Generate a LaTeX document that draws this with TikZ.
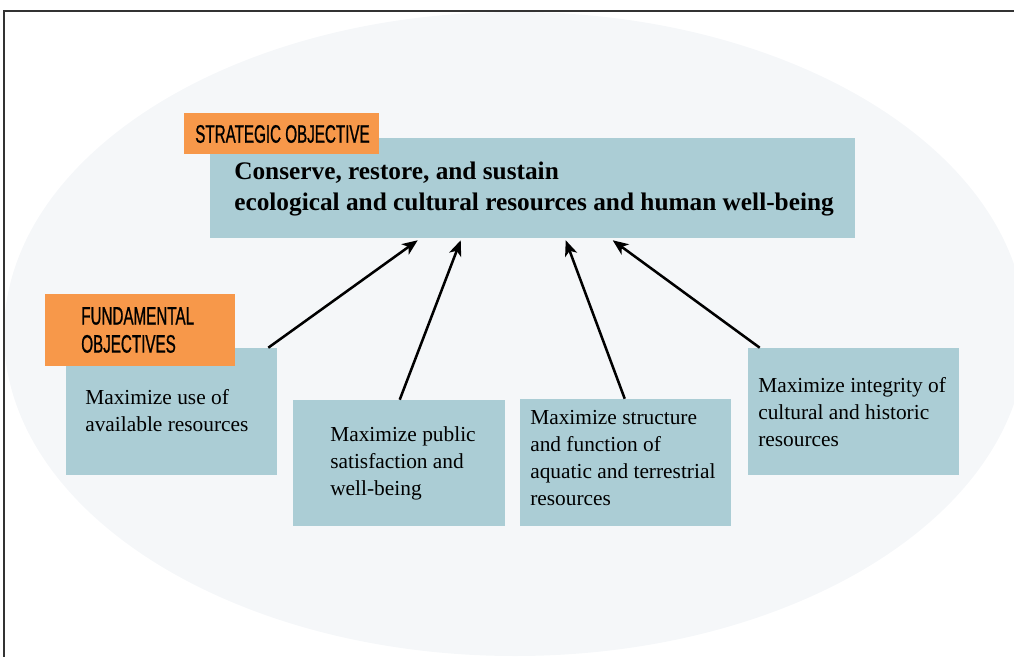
\documentclass[tikz,border=0pt]{standalone}
\usepackage{fontspec}
\setmainfont{Liberation Serif}
\newfontfamily\condfont[FakeStretch=0.6,FakeBold=0.8]{Liberation Sans}
\usetikzlibrary{fit,calc,arrows.meta}
\definecolor{boxblue}{HTML}{ABCDD5}
\definecolor{labelorange}{HTML}{F7984A}
\definecolor{ellfill}{HTML}{F5F7F9}
\definecolor{framegray}{HTML}{333333}
\tikzset{
  objbox/.style={fill=boxblue, draw=none, inner sep=0pt},
  lblbox/.style={fill=labelorange, draw=none, inner sep=0pt},
  objtext/.style={anchor=west, inner sep=0pt, align=left, font=\fontsize{15.2}{19.2}\selectfont},
  lbltext/.style={anchor=west, inner sep=0pt, align=left, font=\condfont\fontsize{18}{20}\selectfont},
  conn/.style={line width=1.8pt, -{Stealth[length=11pt,width=9pt,inset=3pt]}}
}
\begin{document}
\begin{tikzpicture}[x=0.025cm,y=-0.025cm]
\useasboundingbox (0,0) rectangle (1014,657);
% background ellipse
\fill[ellfill] (515,334) ellipse [x radius=511, y radius=322];
% frame
\draw[framegray, line width=1pt] (4,657) -- (4,11) -- (1014,11);
% main strategic box
\node[objbox, fit={(210,138)(855,238)}] (main) {};
\node[anchor=west, inner sep=0pt, align=left, font=\bfseries\fontsize{18}{22.7}\selectfont] (maintxt) at (234,189)
  {Conserve, restore, and sustain\\ecological and cultural resources and human well-being};
% strategic label
\node[lblbox, fit={(184,113)(379,154)}] (slbl) {};
\node[lbltext] (slbltxt) at (195,134) {STRATEGIC OBJECTIVE};
% fundamental boxes
\node[objbox, fit={(66,348)(277,475)}] (b1) {};
\node[objbox, fit={(293,400)(505,526)}] (b2) {};
\node[objbox, fit={(520,399)(731,526)}] (b3) {};
\node[objbox, fit={(748,348)(959,475)}] (b4) {};
% fundamental label
\node[lblbox, fit={(45,294)(235,366)}] (flbl) {};
\node[lbltext] (flbltxt) at (81,330) {FUNDAMENTAL\\OBJECTIVES};
% box texts
\node[objtext] (t1) at (85,411) {Maximize use of\\available resources};
\node[objtext] (t2) at (330,463) {Maximize public\\satisfaction and\\well-being};
\node[objtext] (t3) at (530,458) {Maximize structure\\and function of\\aquatic and terrestrial\\resources};
\node[objtext] (t4) at (758,412) {Maximize integrity of\\cultural and historic\\resources};
% connectors
\draw[conn] ($(b1.north east)+(-9,0)$) -- ($(main.south west)+(208,2)$);
\draw[conn] ($(b2.north west)+(107,0)$) -- ($(main.south west)+(251,2)$);
\draw[conn] ($(b3.north west)+(105,0)$) -- ($(main.south west)+(356,2)$);
\draw[conn] ($(b4.north west)+(12,0)$) -- ($(main.south west)+(403,2)$);
\end{tikzpicture}
\end{document}
